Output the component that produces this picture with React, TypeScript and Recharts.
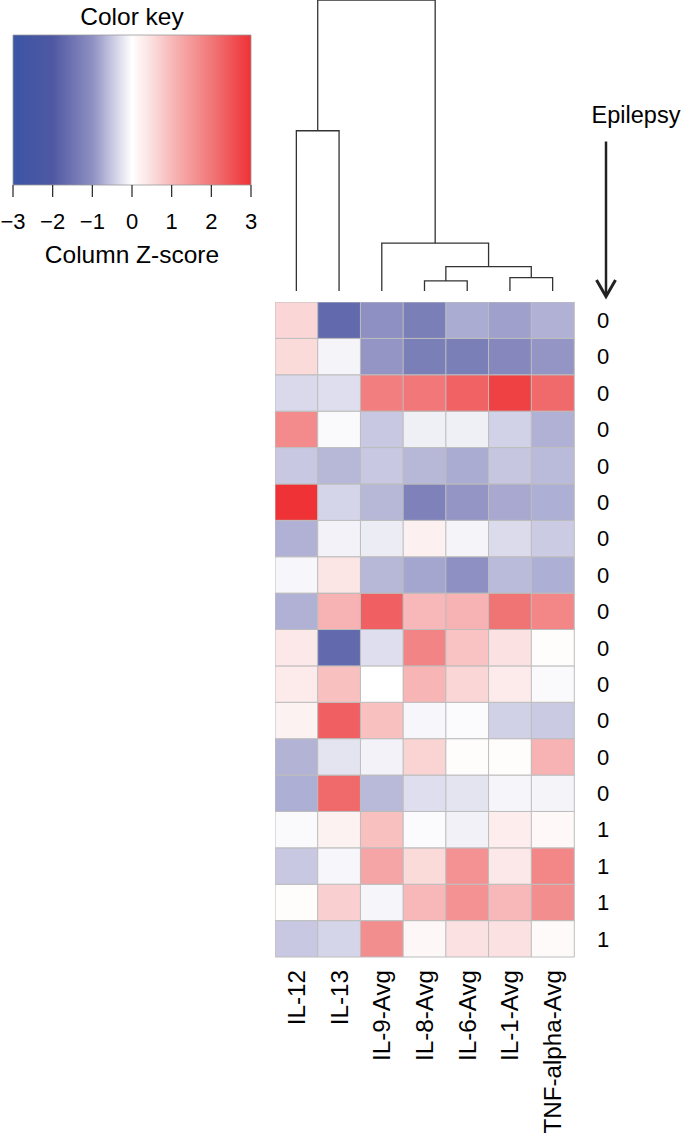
import React from 'react';
import { BarChart, Bar, Cell, XAxis, YAxis, LineChart, Line, ComposedChart, Area } from 'recharts';

const FONT = '"Liberation Sans", Arial, Helvetica, sans-serif';

const COLUMNS = ['IL-12', 'IL-13', 'IL-9-Avg', 'IL-8-Avg', 'IL-6-Avg', 'IL-1-Avg', 'TNF-alpha-Avg'];

// column z-scores, one row per subject (top to bottom)
const Z_SCORES = [
  [0.6, -1.7, -1.0, -1.3, -0.75, -0.85, -0.7],
  [0.55, -0.1, -0.95, -1.3, -1.3, -1.15, -0.95],
  [-0.35, -0.3, 1.9, 2.0, 2.3, 2.8, 2.2],
  [1.7, -0.05, -0.5, -0.15, -0.15, -0.42, -0.7],
  [-0.5, -0.65, -0.5, -0.65, -0.75, -0.52, -0.62],
  [3.0, -0.38, -0.65, -1.25, -0.95, -0.78, -0.72],
  [-0.7, -0.12, -0.17, 0.22, -0.1, -0.33, -0.47],
  [-0.07, 0.4, -0.65, -0.8, -1.0, -0.62, -0.72],
  [-0.7, 1.1, 2.35, 1.0, 1.1, 2.05, 1.75],
  [0.35, -1.7, -0.3, 1.8, 0.85, 0.45, 0.05],
  [0.3, 0.9, 0.0, 1.05, 0.6, 0.3, -0.05],
  [0.2, 2.35, 0.9, -0.07, -0.04, -0.43, -0.48],
  [-0.68, -0.25, -0.12, 0.65, 0.05, 0.05, 1.1],
  [-0.72, 2.2, -0.63, -0.3, -0.25, -0.08, -0.1],
  [-0.05, 0.2, 0.9, -0.04, -0.13, 0.28, 0.1],
  [-0.5, -0.07, 1.3, 0.55, 1.6, 0.35, 1.75],
  [0.05, 0.7, -0.08, 1.0, 1.6, 1.0, 1.65],
  [-0.5, -0.38, 1.65, 0.12, 0.45, 0.45, 0.07],
];

const EPILEPSY = [0, 0, 0, 0, 0, 0, 0, 0, 0, 0, 0, 0, 0, 0, 1, 1, 1, 1];

// colour key
const KEY_STOPS = [-3, -2, -1, -0.5, 0, 0.5, 1, 2, 3];
const KEY_COLORS = ['#3b55a5', '#4f58a2', '#8e8fc2', '#c8c8e2', '#ffffff', '#fbdede', '#f8b8b9', '#f17778', '#ee3236'];
const KEY_TICKS = [-3, -2, -1, 0, 1, 2, 3];
const KEY_BAR = [
  { x: -3, top: 1 },
  { x: 3, top: 1 },
];
const KEY_FRAME = [
  { x: -3, y: 0 },
  { x: -3, y: 1 },
  { x: 3, y: 1 },
  { x: 3, y: 0 },
  { x: -3, y: 0 },
];

// column dendrogram, hclust style: negative = leaf index (1-based), positive = earlier merge
const MERGE_LEFT = [-4, -6, 1, -3, -1, 5];
const MERGE_RIGHT = [-5, -7, 2, 3, -2, 4];
const MERGE_HEIGHT = [10, 13.3, 24.3, 47.7, 159.7, 290];

function hexToRgb(h: string) {
  return [parseInt(h.slice(1, 3), 16), parseInt(h.slice(3, 5), 16), parseInt(h.slice(5, 7), 16)];
}

function zColor(v: number): string {
  const z = Math.max(-3, Math.min(3, v));
  let i = 0;
  while (i < KEY_STOPS.length - 2 && z > KEY_STOPS[i + 1]) i++;
  const t = (z - KEY_STOPS[i]) / (KEY_STOPS[i + 1] - KEY_STOPS[i]);
  const a = hexToRgb(KEY_COLORS[i]);
  const b = hexToRgb(KEY_COLORS[i + 1]);
  const c = a.map((x, k) => Math.round(x + (b[k] - x) * t));
  return `rgb(${c[0]},${c[1]},${c[2]})`;
}

function buildDendrogram() {
  const pos: number[] = [];
  const hgt: number[] = [];
  const child = (id: number) => (id < 0 ? { x: -id - 1, h: 0 } : { x: pos[id - 1], h: hgt[id - 1] });
  return MERGE_HEIGHT.map((h, m) => {
    const l = child(MERGE_LEFT[m]);
    const r = child(MERGE_RIGHT[m]);
    pos[m] = (l.x + r.x) / 2;
    hgt[m] = h;
    return [
      { x: l.x, y: l.h },
      { x: l.x, y: h },
      { x: r.x, y: h },
      { x: r.x, y: r.h },
    ];
  });
}

const heatData = COLUMNS.map((name) => {
  const d: Record<string, string | number> = { name };
  Z_SCORES.forEach((_, r) => {
    d['r' + r] = 1;
  });
  return d;
});

function ColumnTick(props: any) {
  const { x, y, payload } = props;
  const ty = y + 2;
  return (
    <text
      x={x}
      y={ty}
      transform={`rotate(-90, ${x}, ${ty})`}
      textAnchor="end"
      dominantBaseline="central"
      fontSize={24.2}
      fontFamily={FONT}
      fill="#000"
    >
      {payload.value}
    </text>
  );
}

export default function App() {
  const links = buildDendrogram();
  const rowOrder = Z_SCORES.map((_, r) => r).reverse();

  return (
    <div style={{ fontFamily: FONT }}>
      {/* colour key */}
      <div style={{ position: 'absolute', left: 0, top: 0 }}>
        <ComposedChart width={270} height={270} margin={{ top: 35, left: 13, right: 19, bottom: 0 }} data={KEY_BAR}>
          <defs>
            <linearGradient id="keyGrad" x1="0" y1="0" x2="1" y2="0">
              {KEY_STOPS.map((s, i) => (
                <stop key={s} offset={`${((s + 3) / 6) * 100}%`} stopColor={KEY_COLORS[i]} />
              ))}
            </linearGradient>
          </defs>
          <XAxis
            type="number"
            dataKey="x"
            domain={[-3, 3]}
            ticks={KEY_TICKS}
            height={85}
            tickSize={12}
            tickMargin={16}
            axisLine={false}
            tickLine={{ stroke: '#222', strokeWidth: 1.2 }}
            tick={{ fontSize: 22, fill: '#000', fontFamily: FONT }}
            tickFormatter={(v: number) => (v < 0 ? `\u2212${-v}` : `${v}`)}
            interval={0}
          />
          <YAxis type="number" hide domain={[0, 1]} />
          <Area
            dataKey="top"
            type="linear"
            baseValue={0}
            fill="url(#keyGrad)"
            fillOpacity={1}
            stroke="none"
            dot={false}
            activeDot={false}
            isAnimationActive={false}
          />
          <Line
            data={KEY_FRAME}
            dataKey="y"
            type="linear"
            stroke="#9a9a9a"
            strokeWidth={0.8}
            dot={false}
            activeDot={false}
            isAnimationActive={false}
          />
        </ComposedChart>
      </div>

      {/* dendrogram */}
      <div style={{ position: 'absolute', left: 275, top: 0 }}>
        <LineChart width={299} height={291} margin={{ top: 0, right: 0, bottom: 0, left: 0 }}>
          <XAxis type="number" dataKey="x" hide domain={[-0.5, 6.5]} />
          <YAxis type="number" hide domain={[0, 290]} />
          {links.map((pts, i) => (
            <Line
              key={i}
              data={pts}
              dataKey="y"
              type="linear"
              stroke="#333"
              strokeWidth={1.3}
              dot={false}
              activeDot={false}
              isAnimationActive={false}
            />
          ))}
        </LineChart>
      </div>

      {/* heatmap */}
      <div style={{ position: 'absolute', left: 275, top: 302 }}>
        <BarChart width={359} height={835} data={heatData} margin={{ top: 0, right: 0, bottom: 0, left: 0 }} barCategoryGap={0} barGap={0}>
          <XAxis
            dataKey="name"
            height={180}
            interval={0}
            axisLine={false}
            tickLine={false}
            tickSize={6}
            tickMargin={5}
            tick={<ColumnTick />}
          />
          <YAxis
            yAxisId="epi"
            orientation="right"
            type="number"
            domain={[0, 18]}
            ticks={EPILEPSY.map((_, i) => 17.5 - i)}
            tickFormatter={(v: number) => `${EPILEPSY[Math.round(17.5 - v)]}`}
            width={60}
            axisLine={false}
            tickLine={false}
            tickSize={0}
            tickMargin={23}
            interval={0}
            tick={{ fontSize: 22, fill: '#000', fontFamily: FONT }}
          />
          {rowOrder.map((r) => (
            <Bar key={r} dataKey={'r' + r} stackId="hm" yAxisId="epi" isAnimationActive={false}>
              {COLUMNS.map((c, ci) => (
                <Cell key={c} fill={zColor(Z_SCORES[r][ci])} stroke="#bdbdbd" strokeWidth={1} />
              ))}
            </Bar>
          ))}
        </BarChart>
      </div>

      {/* titles and annotation */}
      <svg width={685} height={1137} style={{ position: 'absolute', left: 0, top: 0, pointerEvents: 'none' }}>
        <text x={132} y={25} textAnchor="middle" fontSize={24.5} fontFamily={FONT} fill="#000">
          Color key
        </text>
        <text x={132} y={262.5} textAnchor="middle" fontSize={24.5} fontFamily={FONT} fill="#000">
          Column Z-score
        </text>
        <text x={636} y={122.5} textAnchor="middle" fontSize={23.5} fontFamily={FONT} fill="#000">
          Epilepsy
        </text>
        <line x1={606} y1={141.5} x2={606} y2={295} stroke="#222" strokeWidth={2.5} />
        <polyline points="596.5,280 606,296.5 615.5,280" fill="none" stroke="#222" strokeWidth={3} />
      </svg>
    </div>
  );
}
